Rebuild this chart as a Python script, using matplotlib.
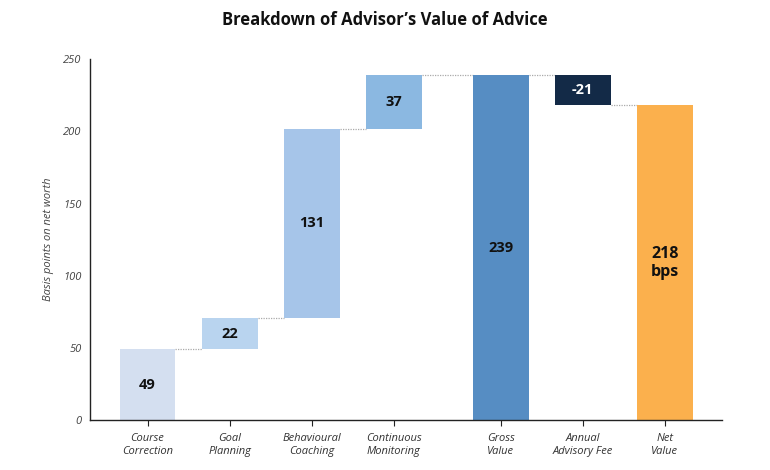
import numpy as np
import matplotlib.pyplot as plt

# Waterfall data (basis points on net worth)
categories = ['Course\nCorrection', 'Goal\nPlanning', 'Behavioural\nCoaching',
              'Continuous\nMonitoring', 'Gross\nValue', 'Annual\nAdvisory Fee', 'Net\nValue']
positions = [0, 1, 2, 3, 4.3, 5.3, 6.3]
changes = [49, 22, 131, 37]
gross = 239
fee = -21
net = 218
labels = ['49', '22', '131', '37', '239', '-21', '218\nbps']
colors = ['#d4dff0', '#b9d4ef', '#a6c5e9', '#8bb8e1', '#568dc3', '#132a47', '#fbb04d']
text_colors = ['#111111'] * 5 + ['white', '#111111']

# bottoms / heights from the running total
bottoms = list(np.concatenate([[0], np.cumsum(changes)[:-1]]))
heights = list(changes)
bottoms += [0, gross + fee, 0]
heights += [gross, -fee, net]
tops = [b + h for b, h in zip(bottoms, heights)]

plt.rcParams['font.family'] = ['Open Sans', 'DejaVu Sans']
fig = plt.figure(figsize=(7.7, 4.7), dpi=100)
ax = fig.add_axes([0.117, 0.106, 0.821, 0.768])

w = 0.68
ax.bar(positions, heights, bottom=bottoms, width=w, color=colors, zorder=2)

for i in range(len(positions)):
    y = bottoms[i] + heights[i] / 2
    fs = 10.5 if i < 6 else 11.5
    ax.text(positions[i], y, labels[i], ha='center', va='center',
            fontsize=fs, fontweight='bold', color=text_colors[i], linespacing=1.2)

# dotted connectors between bars
levels = [tops[0], tops[1], tops[2], tops[3], gross, gross + fee]
for i in range(len(positions) - 1):
    lvl = levels[i]
    ax.plot([positions[i] + w / 2, positions[i + 1] - w / 2], [lvl, lvl],
            color='#aaaaaa', lw=0.9, ls=(0, (1, 1)), zorder=1)

ax.set_xlim(-0.7, 7.0)
ax.set_ylim(0, 250)
ax.set_xticks(positions)
ax.set_xticklabels(categories, fontsize=8, style='italic', color='#333333', linespacing=1.3)
ax.set_yticks([0, 50, 100, 150, 200, 250])
ax.tick_params(axis='y', length=0, labelsize=8, labelcolor='#444444', pad=6)
ax.tick_params(axis='x', length=4, width=0.8, color='#222222', pad=5)
for lab in ax.get_yticklabels():
    lab.set_style('italic')
ax.set_ylabel('Basis points on net worth', fontsize=8, style='italic', color='#444444', labelpad=7)

ax.spines['top'].set_visible(False)
ax.spines['right'].set_visible(False)
ax.spines['left'].set_color('#222222')
ax.spines['bottom'].set_color('#222222')
ax.spines['left'].set_linewidth(1.0)
ax.spines['bottom'].set_linewidth(1.0)

fig.text(0.5, 0.957, 'Breakdown of Advisor\u2019s Value of Advice', ha='center', va='center',
         fontsize=12, fontweight='bold', color='#111111')

fig.savefig('out.png', dpi=100)
